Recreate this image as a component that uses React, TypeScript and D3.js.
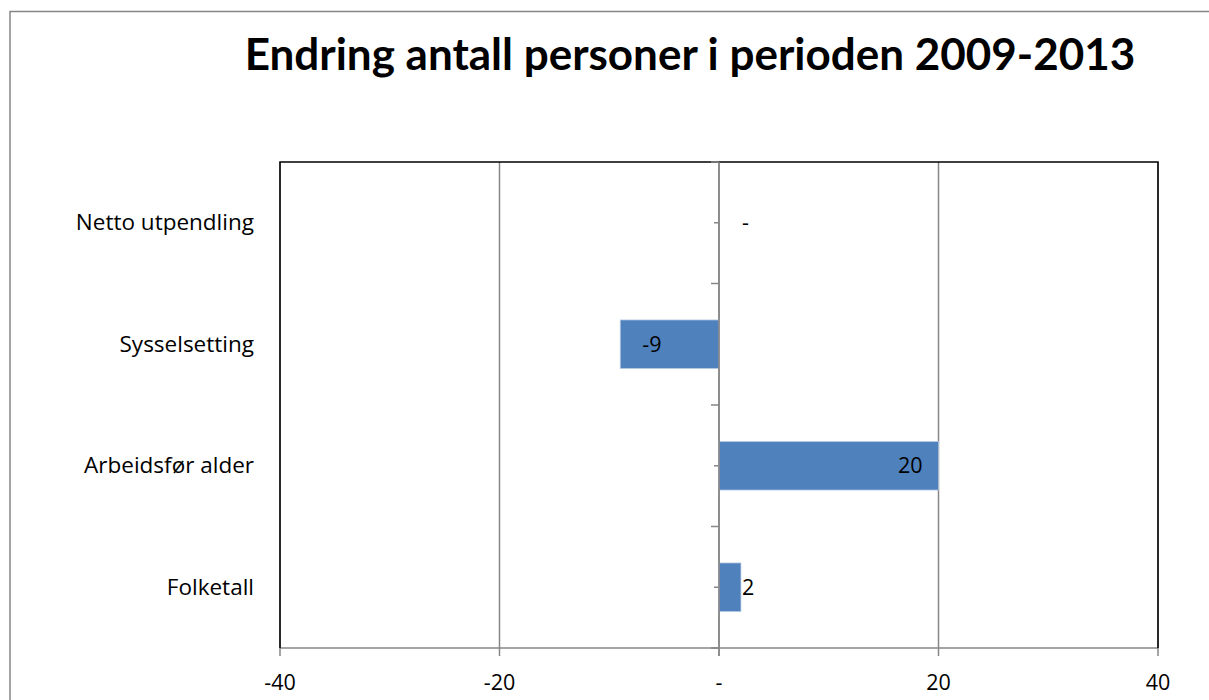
import { useEffect, useRef } from "react";
import * as d3 from "d3";

// top to bottom, as drawn
const categories = ["Netto utpendling", "Sysselsetting", "Arbeidsfør alder", "Folketall"];
const values = [0, -9, 20, 2];
const xTicks = [-40, -20, 0, 20, 40];
const title = "Endring antall personer i perioden 2009-2013";

const W = 1209;
const H = 700;
const FONT = "'Open Sans', Lato, sans-serif";
const TITLE_FONT = "Lato, 'Open Sans', sans-serif";
const fmt = (v: number) => (v === 0 ? "-" : String(v));

export default function App() {
  const svgRef = useRef<SVGSVGElement>(null);

  useEffect(() => {
    if (!svgRef.current) return;
    const svg = d3.select(svgRef.current);
    svg.selectAll("*").remove();

    const plot = { left: 280, right: 1158, top: 162, bottom: 648 };

    // outer chart border
    svg
      .append("rect")
      .attr("x", 10)
      .attr("y", 11.5)
      .attr("width", W + 20)
      .attr("height", H + 20)
      .attr("fill", "white")
      .attr("stroke", "#868686")
      .attr("stroke-width", 1.5);

    // title
    svg
      .append("text")
      .attr("x", 690)
      .attr("y", 70)
      .attr("text-anchor", "middle")
      .attr("font-family", TITLE_FONT)
      .attr("font-weight", "bold")
      .attr("font-size", 44)
      .attr("fill", "#000")
      .text(title);

    const x = d3.scaleLinear().domain([-40, 40]).range([plot.left, plot.right]);
    const y = d3
      .scaleBand<string>()
      .domain(categories)
      .range([plot.top, plot.bottom])
      .paddingInner(0.6)
      .paddingOuter(0.3);

    // vertical gridlines
    svg
      .append("g")
      .selectAll("line")
      .data(xTicks)
      .enter()
      .append("line")
      .attr("x1", (d) => x(d))
      .attr("x2", (d) => x(d))
      .attr("y1", plot.top)
      .attr("y2", plot.bottom + 8)
      .attr("stroke", "#868686")
      .attr("stroke-width", 1.5);

    // bottom axis line
    svg
      .append("line")
      .attr("x1", plot.left)
      .attr("x2", plot.right)
      .attr("y1", plot.bottom)
      .attr("y2", plot.bottom)
      .attr("stroke", "#868686")
      .attr("stroke-width", 1.5);

    // plot area border (black on top, left, right)
    svg
      .append("path")
      .attr(
        "d",
        `M${plot.left},${plot.bottom}V${plot.top}H${plot.right}V${plot.bottom}`,
      )
      .attr("fill", "none")
      .attr("stroke", "#000")
      .attr("stroke-width", 1.5);

    // x tick labels
    svg
      .append("g")
      .selectAll("text")
      .data(xTicks)
      .enter()
      .append("text")
      .attr("x", (d) => x(d))
      .attr("y", 690)
      .attr("text-anchor", "middle")
      .attr("font-family", FONT)
      .attr("font-size", 21.5)
      .attr("fill", "#000")
      .text((d) => fmt(d));

    // category axis ticks at 0
    const x0 = x(0);
    const step = y.step();
    const bounds = d3.range(categories.length + 1).map((i) => plot.top + i * step);
    svg
      .append("g")
      .selectAll("line")
      .data(bounds)
      .enter()
      .append("line")
      .attr("x1", x0 - 8)
      .attr("x2", x0)
      .attr("y1", (d) => d)
      .attr("y2", (d) => d)
      .attr("stroke", "#868686")
      .attr("stroke-width", 1.5);
    svg
      .append("g")
      .selectAll("line")
      .data(categories)
      .enter()
      .append("line")
      .attr("x1", x0 - 5)
      .attr("x2", x0)
      .attr("y1", (d) => (y(d) ?? 0) + y.bandwidth() / 2)
      .attr("y2", (d) => (y(d) ?? 0) + y.bandwidth() / 2)
      .attr("stroke", "#868686")
      .attr("stroke-width", 1.5);

    // category labels
    svg
      .append("g")
      .selectAll("text")
      .data(categories)
      .enter()
      .append("text")
      .attr("x", 254)
      .attr("y", (d) => (y(d) ?? 0) + y.bandwidth() / 2 + 7.5)
      .attr("text-anchor", "end")
      .attr("font-family", FONT)
      .attr("font-size", 22.5)
      .attr("fill", "#000")
      .text((d) => d);

    const rows = categories.map((c, i) => ({ c, v: values[i] }));

    // bars
    svg
      .append("g")
      .selectAll("rect")
      .data(rows)
      .enter()
      .append("rect")
      .attr("x", (d) => Math.min(x(d.v), x0))
      .attr("y", (d) => y(d.c) ?? 0)
      .attr("width", (d) => Math.abs(x(d.v) - x0))
      .attr("height", y.bandwidth())
      .attr("fill", "#4F81BD")
      .attr("stroke", "#b9cde5")
      .attr("stroke-width", 0.75);

    // zero axis on top of bars
    svg
      .append("line")
      .attr("x1", x0)
      .attr("x2", x0)
      .attr("y1", plot.top)
      .attr("y2", plot.bottom + 8)
      .attr("stroke", "#868686")
      .attr("stroke-width", 1.5);

    // value labels (inside end when the bar is wide, otherwise outside)
    svg
      .append("g")
      .selectAll("text")
      .data(rows)
      .enter()
      .append("text")
      .attr("x", (d) => {
        const w = Math.abs(x(d.v) - x0);
        if (d.v === 0) return x0 + 23;
        if (w < 40) return x(d.v) + 1;
        return d.v > 0 ? x(d.v) - 16 : x(d.v) + 22;
      })
      .attr("y", (d) => (y(d.c) ?? 0) + y.bandwidth() / 2 + 7.5)
      .attr("text-anchor", (d) => {
        const w = Math.abs(x(d.v) - x0);
        if (w < 40) return "start";
        return d.v > 0 ? "end" : "start";
      })
      .attr("font-family", FONT)
      .attr("font-size", 21.5)
      .attr("fill", "#000")
      .text((d) => fmt(d.v));
  }, []);

  return (
    <div style={{ position: "absolute", left: 0, top: 0 }}>
      <svg ref={svgRef} width={W} height={H} style={{ display: "block" }} />
    </div>
  );
}
